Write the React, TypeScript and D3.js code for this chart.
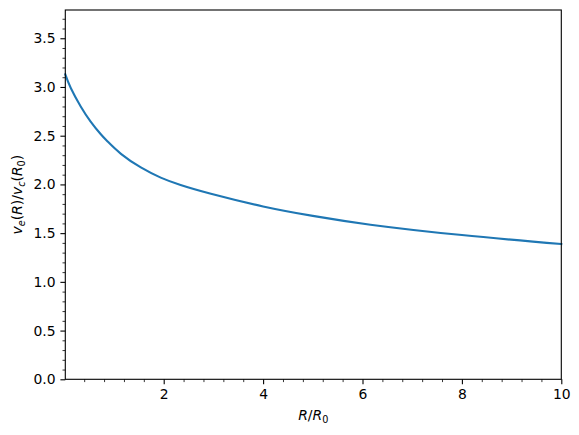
import React, { useEffect, useRef } from 'react';
import * as d3 from 'd3';

// curve: R/R0 and v_e(R)/v_c(R0)
const radius = [0.02, 0.13, 0.33, 0.53, 0.73, 0.87, 1.14, 1.54, 1.94, 2.34, 2.95, 4.0, 5.0, 6.16, 8.0, 10.0];
const vEsc = [3.13, 2.99, 2.8, 2.645, 2.517, 2.441, 2.314, 2.174, 2.07, 1.994, 1.904, 1.774, 1.677, 1.587, 1.48, 1.388];

const xTicks = [2, 4, 6, 8, 10];
const yTicks = [0, 0.5, 1.0, 1.5, 2.0, 2.5, 3.0, 3.5];

const W = 579;
const H = 435;
const margin = { left: 65.3, right: 17.7, top: 10, bottom: 55.7 };
const FONT = 'DejaVu Sans, sans-serif';

const App: React.FC = () => {
  const svgRef = useRef<SVGSVGElement>(null);

  useEffect(() => {
    if (!svgRef.current) return;
    const svg = d3.select(svgRef.current);
    svg.selectAll('*').remove();

    const x = d3.scaleLinear().domain([0.02, 10]).range([margin.left, W - margin.right]);
    const y = d3.scaleLinear().domain([0, 3.79]).range([H - margin.bottom, margin.top]);

    const xMinor = d3.range(0.4, 10, 0.4).filter(v => Math.abs(v / 2 - Math.round(v / 2)) > 1e-6);
    const yMinor = d3.range(0.1, 3.79, 0.1).filter(v => Math.abs(v / 0.5 - Math.round(v / 0.5)) > 1e-6);

    // curve
    const pts = radius.map((r, i) => [r, vEsc[i]] as [number, number]);
    const line = d3.line<[number, number]>()
      .x(d => x(d[0]))
      .y(d => y(d[1]))
      .curve(d3.curveNatural);

    svg.append('path')
      .datum(pts)
      .attr('fill', 'none')
      .attr('stroke', '#1f77b4')
      .attr('stroke-width', 2.08)
      .attr('stroke-linecap', 'square')
      .attr('d', line);

    // x axis
    const xAxis = svg.append('g')
      .attr('transform', `translate(0,${H - margin.bottom})`)
      .call(d3.axisBottom(x).tickValues(xTicks).tickSize(4.9).tickPadding(4.9).tickFormat(d3.format('d')));
    xAxis.select('.domain').remove();
    xAxis.selectAll('line').attr('stroke-width', 1.1);
    xAxis.selectAll('text').attr('font-size', 13.9).attr('font-family', FONT).attr('fill', '#000');

    const xMin = svg.append('g')
      .attr('transform', `translate(0,${H - margin.bottom})`)
      .call(d3.axisBottom(x).tickValues(xMinor).tickSize(2.8).tickFormat(() => ''));
    xMin.select('.domain').remove();
    xMin.selectAll('line').attr('stroke-width', 0.8);

    // y axis
    const yAxis = svg.append('g')
      .attr('transform', `translate(${margin.left},0)`)
      .call(d3.axisLeft(y).tickValues(yTicks).tickSize(4.9).tickPadding(4.9).tickFormat(d3.format('.1f')));
    yAxis.select('.domain').remove();
    yAxis.selectAll('line').attr('stroke-width', 1.1);
    yAxis.selectAll('text').attr('font-size', 13.9).attr('font-family', FONT).attr('fill', '#000');

    const yMin = svg.append('g')
      .attr('transform', `translate(${margin.left},0)`)
      .call(d3.axisLeft(y).tickValues(yMinor).tickSize(2.8).tickFormat(() => ''));
    yMin.select('.domain').remove();
    yMin.selectAll('line').attr('stroke-width', 0.8);

    // frame
    svg.append('rect')
      .attr('x', margin.left)
      .attr('y', margin.top)
      .attr('width', W - margin.left - margin.right)
      .attr('height', H - margin.top - margin.bottom)
      .attr('fill', 'none')
      .attr('stroke', '#000')
      .attr('stroke-width', 1.1);

    // x label: R/R_0
    const xl = svg.append('text')
      .attr('x', (margin.left + W - margin.right) / 2)
      .attr('y', 420)
      .attr('text-anchor', 'middle')
      .attr('font-family', FONT)
      .attr('font-size', 13.9);
    xl.append('tspan').attr('font-style', 'italic').text('R');
    xl.append('tspan').text('/');
    xl.append('tspan').attr('font-style', 'italic').text('R');
    xl.append('tspan').attr('font-size', 9.7).attr('dy', 2.5).text('0');

    // y label: v_e(R)/v_c(R_0)
    const cy = (margin.top + H - margin.bottom) / 2;
    const yl = svg.append('text')
      .attr('transform', `translate(22,${cy}) rotate(-90)`)
      .attr('text-anchor', 'middle')
      .attr('font-family', FONT)
      .attr('font-size', 13.9);
    yl.append('tspan').attr('font-style', 'italic').text('v');
    yl.append('tspan').attr('font-style', 'italic').attr('font-size', 9.7).attr('dy', 2.5).text('e');
    yl.append('tspan').attr('dy', -2.5).text('(');
    yl.append('tspan').attr('font-style', 'italic').text('R');
    yl.append('tspan').text(')/');
    yl.append('tspan').attr('font-style', 'italic').text('v');
    yl.append('tspan').attr('font-style', 'italic').attr('font-size', 9.7).attr('dy', 2.5).text('c');
    yl.append('tspan').attr('dy', -2.5).text('(');
    yl.append('tspan').attr('font-style', 'italic').text('R');
    yl.append('tspan').attr('font-size', 9.7).attr('dy', 2.5).text('0');
    yl.append('tspan').attr('dy', -2.5).text(')');
  }, []);

  return (
    <svg
      ref={svgRef}
      width={W}
      height={H}
      style={{ position: 'absolute', left: 0, top: 0, background: '#fff' }}
    />
  );
};

export default App;
